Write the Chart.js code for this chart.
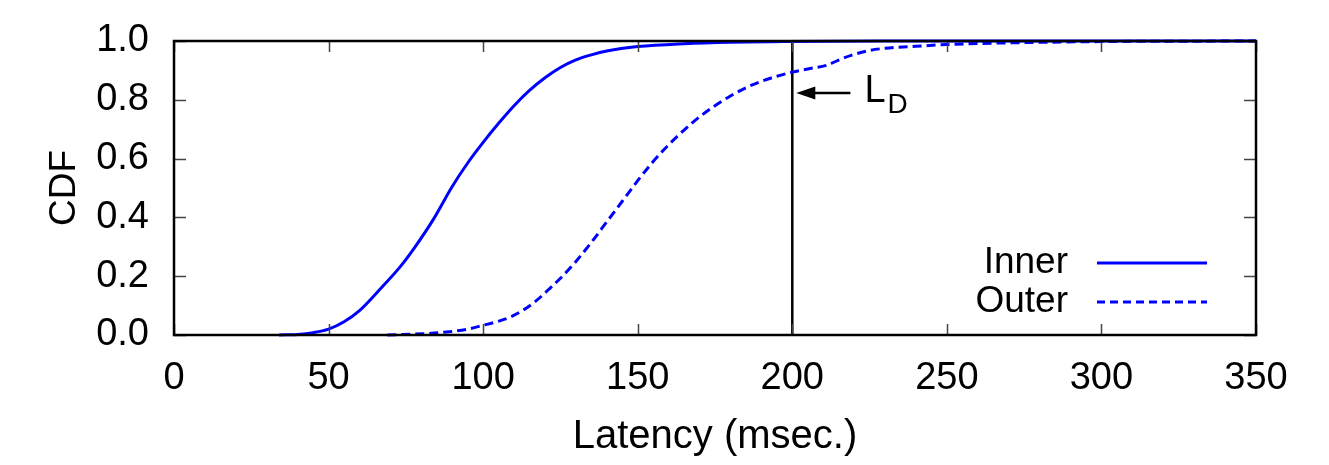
<!DOCTYPE html>
<html>
<head>
<meta charset="utf-8">
<script src="https://cdn.jsdelivr.net/npm/chart.js@4.4.0/dist/chart.umd.min.js"></script>
<style>
  html, body { margin: 0; padding: 0; background: #fff; }
  #wrap { width: 1329px; height: 465px; }
</style>
</head>
<body>
<div id="wrap"><canvas id="cdfChart" width="1329" height="465"></canvas></div>
<script>
'use strict'

// latency (msec) / CDF
const innerLatency = [34, 40, 45, 50, 55, 60, 67, 73, 78, 84, 90, 95, 100, 105, 110, 115, 120, 125, 130, 135, 140, 150, 165, 180, 197, 230, 350];
const innerCdf     = [0, 0.002, 0.008, 0.02, 0.045, 0.083, 0.16, 0.23, 0.3, 0.395, 0.505, 0.585, 0.655, 0.72, 0.78, 0.832, 0.875, 0.91, 0.936, 0.953, 0.966, 0.981, 0.991, 0.996, 0.998, 1.0, 1.0];

const outerLatency = [69, 80, 87, 95, 100, 105, 109, 113, 117, 121, 125, 130, 135, 140, 145, 150, 155, 160, 165, 170, 175, 180, 185, 190, 195, 200, 205, 211, 215, 219, 225, 232, 240, 250, 267, 300, 350];
const outerCdf     = [0, 0.004, 0.009, 0.02, 0.033, 0.047, 0.062, 0.085, 0.115, 0.153, 0.193, 0.25, 0.315, 0.385, 0.455, 0.525, 0.59, 0.647, 0.697, 0.742, 0.78, 0.813, 0.841, 0.863, 0.88, 0.894, 0.905, 0.917, 0.935, 0.951, 0.968, 0.977, 0.982, 0.988, 0.993, 0.998, 1.0];

const deadlineLatency = [200, 200];
const deadlineCdf = [0, 1];

const xTicks = [0, 50, 100, 150, 200, 250, 300, 350];
const yTicks = [0, 0.2, 0.4, 0.6, 0.8, 1.0];

const seriesNames = ['Inner', 'Outer'];

const FONT = '"Liberation Sans", Arial, sans-serif';
const BLUE = '#0000ff';

const toPoints = (xs, ys) => xs.map((x, i) => ({ x: x, y: ys[i] }));

// gnuplot style frame, inward ticks, key and L_D arrow
const framePlugin = {
  id: 'frame',
  afterDraw(chart) {
    const ctx = chart.ctx;
    const a = chart.chartArea;
    const xs = chart.scales.x;
    const ys = chart.scales.y;
    ctx.save();

    // ticks
    ctx.strokeStyle = '#444';
    ctx.lineWidth = 1.5;
    ctx.beginPath();
    xTicks.forEach(v => {
      const px = Math.round(xs.getPixelForValue(v)) + 0.5;
      ctx.moveTo(px, a.bottom); ctx.lineTo(px, a.bottom - 11);
      ctx.moveTo(px, a.top); ctx.lineTo(px, a.top + 11);
    });
    yTicks.forEach(v => {
      const py = Math.round(ys.getPixelForValue(v)) + 0.5;
      ctx.moveTo(a.left, py); ctx.lineTo(a.left + 12, py);
      ctx.moveTo(a.right, py); ctx.lineTo(a.right - 12, py);
    });
    ctx.stroke();

    // border
    ctx.strokeStyle = '#000';
    ctx.lineWidth = 2.5;
    ctx.strokeRect(a.left, a.top, a.right - a.left, a.bottom - a.top);

    // key
    ctx.font = '37px ' + FONT;
    ctx.fillStyle = '#000';
    ctx.textAlign = 'right';
    ctx.textBaseline = 'middle';
    const keyY = [a.top + 222, a.top + 261];
    seriesNames.forEach((name, i) => {
      ctx.fillText(name, a.right - 188, keyY[i]);
      ctx.beginPath();
      ctx.strokeStyle = BLUE;
      ctx.lineWidth = 3;
      ctx.setLineDash(i === 0 ? [] : [8, 5]);
      ctx.moveTo(a.right - 159, keyY[i]);
      ctx.lineTo(a.right - 49, keyY[i]);
      ctx.stroke();
    });
    ctx.setLineDash([]);

    // L_D arrow
    const tipX = xs.getPixelForValue(200) + 4;
    const tailX = xs.getPixelForValue(218.8);
    const arrY = ys.getPixelForValue(0.823);
    ctx.strokeStyle = '#000';
    ctx.lineWidth = 2.5;
    ctx.beginPath();
    ctx.moveTo(tailX, arrY);
    ctx.lineTo(tipX + 14, arrY);
    ctx.stroke();
    ctx.beginPath();
    ctx.moveTo(tipX, arrY);
    ctx.lineTo(tipX + 19, arrY - 6.5);
    ctx.lineTo(tipX + 19, arrY + 6.5);
    ctx.closePath();
    ctx.fill();

    ctx.textAlign = 'left';
    ctx.textBaseline = 'alphabetic';
    ctx.font = '38px ' + FONT;
    ctx.fillText('L', tailX + 14, arrY + 9);
    ctx.font = '28px ' + FONT;
    ctx.fillText('D', tailX + 37, arrY + 20);

    ctx.restore();
  }
};

const data = {
  datasets: [
    {
      label: seriesNames[0],
      data: toPoints(innerLatency, innerCdf),
      borderColor: BLUE,
      borderWidth: 3,
      showLine: true,
      pointRadius: 0,
      cubicInterpolationMode: 'monotone'
    },
    {
      label: seriesNames[1],
      data: toPoints(outerLatency, outerCdf),
      borderColor: BLUE,
      borderWidth: 3,
      borderDash: [9, 5],
      showLine: true,
      pointRadius: 0,
      cubicInterpolationMode: 'monotone'
    },
    {
      label: 'L_D',
      data: toPoints(deadlineLatency, deadlineCdf),
      borderColor: '#000',
      borderWidth: 2.5,
      showLine: true,
      pointRadius: 0
    }
  ]
};

const config = {
  type: 'scatter',
  data: data,
  plugins: [framePlugin],
  options: {
    responsive: false,
    animation: false,
    clip: false,
    layout: { padding: { left: 0, right: 73, top: 41, bottom: 0 } },
    plugins: { legend: { display: false }, tooltip: { enabled: false } },
    scales: {
      x: {
        type: 'linear',
        min: 0, max: 350,
        afterFit: s => { s.height = 130; s.paddingLeft = 0; s.paddingRight = 0; },
        afterBuildTicks: s => { s.ticks = xTicks.map(v => ({ value: v })); },
        grid: { display: false, drawTicks: false },
        border: { display: false },
        ticks: { color: '#000', font: { size: 38, family: FONT }, padding: 21, maxRotation: 0 },
        title: { display: true, text: 'Latency (msec.)', color: '#000', font: { size: 40, family: FONT }, padding: { top: 0, bottom: 4 } }
      },
      y: {
        type: 'linear',
        min: 0, max: 1,
        afterFit: s => { s.width = 174; s.paddingTop = 0; s.paddingBottom = 0; },
        afterBuildTicks: s => { s.ticks = yTicks.map(v => ({ value: v })); },
        grid: { display: false, drawTicks: false },
        border: { display: false },
        ticks: { color: '#000', font: { size: 38, family: FONT }, padding: 25, callback: v => v.toFixed(1) },
        title: { display: true, text: 'CDF', color: '#000', font: { size: 37, family: FONT }, padding: { top: 43, bottom: 0 } }
      }
    }
  }
};

const cdfChart = new Chart(document.getElementById('cdfChart'), config);
</script>
</body>
</html>
